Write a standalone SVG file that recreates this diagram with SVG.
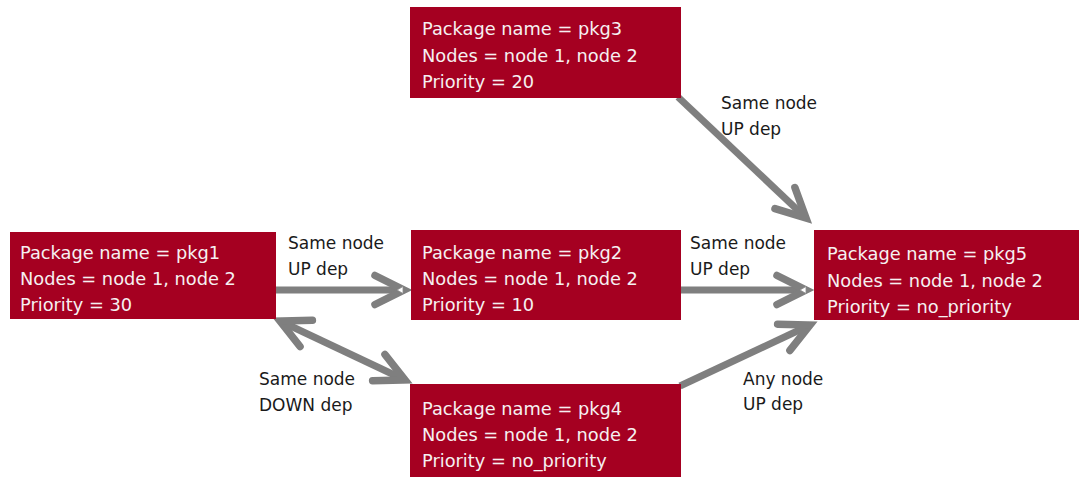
<svg xmlns="http://www.w3.org/2000/svg" width="1079" height="477" viewBox="0 0 1079 477">
<style>
.box{fill:#a50021;}
.bt{font-family:"DejaVu Sans",Verdana,sans-serif;font-size:17.8px;fill:#f6f0f1;}
.lbl{font-family:"DejaVu Sans",Verdana,sans-serif;font-size:17px;fill:#1a1a1a;}
.conn{stroke:#7f7f7f;stroke-width:7;fill:none;}
.tick{fill:#ffffff;stroke:#8a8a8a;stroke-width:0.8;}
</style>
<defs>
<marker id="chev" markerUnits="userSpaceOnUse" markerWidth="60" markerHeight="60" refX="0" refY="0" viewBox="-40 -30 60 60" orient="auto-start-reverse" overflow="visible">
<path d="M-29,-14.5 L0,0 L-29,14.5" fill="none" stroke="#7f7f7f" stroke-width="7.5" stroke-linecap="round" stroke-linejoin="miter"/>
</marker>
</defs>
<rect width="1079" height="477" fill="#ffffff"/>
<g id="connectors">
<line class="conn" x1="276" y1="290" x2="404" y2="290" marker-end="url(#chev)"/>
<line class="conn" x1="681" y1="290" x2="806" y2="290" marker-end="url(#chev)"/>
<line class="conn" x1="678" y1="97" x2="806" y2="218" marker-end="url(#chev)"/>
<line class="conn" x1="680" y1="386" x2="810" y2="325" marker-end="url(#chev)"/>
<line class="conn" x1="280" y1="321" x2="405" y2="380" marker-start="url(#chev)" marker-end="url(#chev)"/>
<polygon class="tick" points="397,290 403,286.5 403,293.5"/>
<polygon class="tick" points="800,290 806,286.5 806,293.5"/>
</g>
<g id="pkg3">
<rect class="box" x="410" y="7" width="271" height="91"/>
<text class="bt" x="422" y="35">Package name = pkg3</text>
<text class="bt" x="422" y="62">Nodes = node 1, node 2</text>
<text class="bt" x="422" y="88">Priority = 20</text>
</g>
<g id="pkg1">
<rect class="box" x="10" y="232" width="266" height="87"/>
<text class="bt" x="20" y="259">Package name = pkg1</text>
<text class="bt" x="20" y="285">Nodes = node 1, node 2</text>
<text class="bt" x="20" y="311">Priority = 30</text>
</g>
<g id="pkg2">
<rect class="box" x="411" y="230" width="270" height="90"/>
<text class="bt" x="422" y="259">Package name = pkg2</text>
<text class="bt" x="422" y="285">Nodes = node 1, node 2</text>
<text class="bt" x="422" y="311">Priority = 10</text>
</g>
<g id="pkg5">
<rect class="box" x="814" y="230" width="265" height="90"/>
<text class="bt" x="827" y="260">Package name = pkg5</text>
<text class="bt" x="827" y="287">Nodes = node 1, node 2</text>
<text class="bt" x="827" y="313">Priority = no_priority</text>
</g>
<g id="pkg4">
<rect class="box" x="410" y="384" width="271" height="93"/>
<text class="bt" x="422" y="415">Package name = pkg4</text>
<text class="bt" x="422" y="441">Nodes = node 1, node 2</text>
<text class="bt" x="422" y="467">Priority = no_priority</text>
</g>
<g id="labels">
<text class="lbl" x="288" y="249">Same node</text>
<text class="lbl" x="288" y="275">UP dep</text>
<text class="lbl" x="721" y="109">Same node</text>
<text class="lbl" x="721" y="135">UP dep</text>
<text class="lbl" x="690" y="249">Same node</text>
<text class="lbl" x="690" y="275">UP dep</text>
<text class="lbl" x="259" y="385">Same node</text>
<text class="lbl" x="259" y="411">DOWN dep</text>
<text class="lbl" x="743" y="385">Any node</text>
<text class="lbl" x="743" y="410">UP dep</text>
</g>
</svg>
